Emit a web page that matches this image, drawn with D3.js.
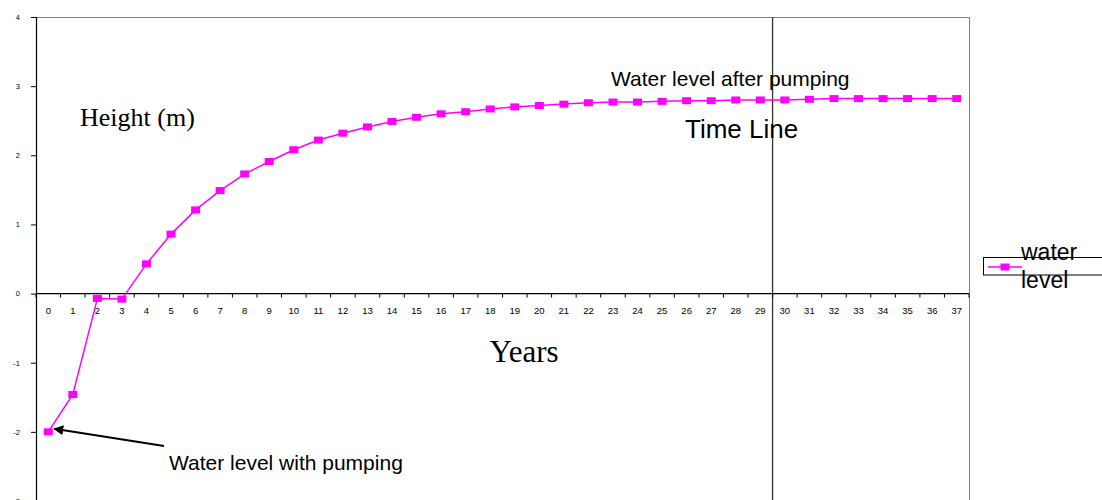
<!DOCTYPE html>
<html>
<head>
<meta charset="utf-8">
<script src="https://cdn.jsdelivr.net/npm/d3@7"></script>
<style>
  html, body { margin: 0; padding: 0; background: #fff; }
  svg { display: block; }
</style>
</head>
<body>
<svg id="chart" width="1102" height="500"></svg>
<script>
// ---- data ----
const years = ["0","1","2","3","4","5","6","7","8","9","10","11","12","13","14","15","16","17","18","19",
               "20","21","22","23","24","25","26","27","28","29","30","31","32","33","34","35","36","37"];
const waterLevel = [-2.00, -1.46, -0.07, -0.08, 0.43, 0.86, 1.21, 1.49, 1.73, 1.91,
                    2.08, 2.22, 2.32, 2.41, 2.49, 2.55, 2.60, 2.63, 2.67, 2.70,
                    2.72, 2.74, 2.76, 2.77, 2.77, 2.78, 2.79, 2.79, 2.80, 2.80,
                    2.80, 2.81, 2.82, 2.82, 2.82, 2.82, 2.82, 2.82];
const yTicks = [-3, -2, -1, 0, 1, 2, 3, 4];
const seriesName = "water level";
const timeLineAt = "30";   // boundary between year 29 and 30

// ---- layout ----
const svg = d3.select("#chart");
const plot = { left: 36, right: 969, top: 17, bottom: 501 };
const SANS = "'Liberation Sans', Arial, sans-serif";
const SERIF = "'Liberation Serif', 'Times New Roman', serif";
const MAG = "#ff00ff";

const x = d3.scaleBand().domain(years).range([plot.left, plot.right]).padding(0);
const y = d3.scaleLinear().domain([-3, 4]).range([plot.bottom, plot.top]);
const cx = d => x(d) + x.bandwidth() / 2;

svg.append("rect").attr("width", 1102).attr("height", 500).attr("fill", "#fff");

// frame (top & right gray)
svg.append("line").attr("x1", plot.left).attr("x2", plot.right).attr("y1", plot.top + 0.5).attr("y2", plot.top + 0.5)
  .attr("stroke", "#808080").attr("stroke-width", 1);
svg.append("line").attr("x1", plot.right + 0.5).attr("x2", plot.right + 0.5).attr("y1", plot.top).attr("y2", plot.bottom)
  .attr("stroke", "#808080").attr("stroke-width", 1);

// time line
svg.append("line")
  .attr("x1", x(timeLineAt)).attr("x2", x(timeLineAt))
  .attr("y1", plot.top).attr("y2", plot.bottom)
  .attr("stroke", "#333").attr("stroke-width", 1.3);

// y axis
const yAxis = d3.axisLeft(y).tickValues(yTicks).tickSize(5).tickPadding(11).tickFormat(d3.format("d"));
const gy = svg.append("g").attr("transform", `translate(${plot.left},0)`).call(yAxis);
gy.select(".domain").attr("stroke", "#000").attr("stroke-width", 1.2);
gy.selectAll(".tick line").attr("stroke", "#000");
gy.selectAll(".tick text").attr("font-family", SANS).attr("font-size", 7.5).attr("fill", "#000")
  .text(d => d < 0 ? "-" + Math.abs(d) : d);

// x axis at y = 0
const y0 = y(0);
svg.append("line").attr("x1", plot.left).attr("x2", plot.right).attr("y1", y0).attr("y2", y0)
  .attr("stroke", "#000").attr("stroke-width", 1.2);
const boundaries = years.map(d => x(d)).concat([plot.right]);
svg.append("g").selectAll("line").data(boundaries).join("line")
  .attr("x1", d => d).attr("x2", d => d).attr("y1", y0).attr("y2", y0 + 4)
  .attr("stroke", "#000").attr("stroke-width", 1);
svg.append("g").selectAll("text").data(years).join("text")
  .attr("x", d => cx(d)).attr("y", y0 + 20)
  .attr("text-anchor", "middle")
  .attr("font-family", SANS).attr("font-size", 9.5).attr("fill", "#000")
  .text(d => d);

// series line
const line = d3.line().x((d, i) => cx(years[i])).y(d => y(d));
svg.append("path").datum(waterLevel)
  .attr("d", line).attr("fill", "none").attr("stroke", MAG).attr("stroke-width", 1.5);
const mw = 9, mh = 7;
svg.append("g").selectAll("rect").data(waterLevel).join("rect")
  .attr("x", (d, i) => cx(years[i]) - mw / 2)
  .attr("y", d => y(d) - mh / 2)
  .attr("width", mw).attr("height", mh)
  .attr("fill", MAG);

// annotations
svg.append("text").attr("x", 80).attr("y", 126)
  .attr("font-family", SERIF).attr("font-size", 26).attr("fill", "#000").text("Height (m)");
svg.append("text").attr("x", 524).attr("y", 362).attr("text-anchor", "middle")
  .attr("font-family", SERIF).attr("font-size", 31).attr("fill", "#000").text("Years");
svg.append("text").attr("x", 611).attr("y", 86)
  .attr("font-family", SANS).attr("font-size", 21).attr("fill", "#000").text("Water level after pumping");
svg.append("text").attr("x", 685).attr("y", 138)
  .attr("font-family", SANS).attr("font-size", 26).attr("fill", "#000").text("Time Line");
svg.append("text").attr("x", 169).attr("y", 470)
  .attr("font-family", SANS).attr("font-size", 21).attr("fill", "#000").text("Water level with pumping");

// arrow to first point
const defs = svg.append("defs");
defs.append("marker").attr("id", "arrowhead")
  .attr("viewBox", "0 0 10 10").attr("refX", 9).attr("refY", 5)
  .attr("markerWidth", 5).attr("markerHeight", 5).attr("orient", "auto")
  .append("path").attr("d", "M0,0 L10,5 L0,10 Z").attr("fill", "#000");
const tipX = cx(years[0]) + 6, tipY = y(waterLevel[0]) - 3;
svg.append("line")
  .attr("x1", 164).attr("y1", 446).attr("x2", tipX).attr("y2", tipY)
  .attr("stroke", "#000").attr("stroke-width", 2)
  .attr("marker-end", "url(#arrowhead)");

// legend
const lg = svg.append("g");
lg.append("rect").attr("x", 983.5).attr("y", 257.5).attr("width", 125).attr("height", 17.5)
  .attr("fill", "#fff").attr("stroke", "#000").attr("stroke-width", 1);
lg.append("line").attr("x1", 988).attr("x2", 1022).attr("y1", 267).attr("y2", 267)
  .attr("stroke", MAG).attr("stroke-width", 1.5);
lg.append("rect").attr("x", 1005 - mw / 2).attr("y", 267 - mh / 2).attr("width", mw).attr("height", mh).attr("fill", MAG);
const words = seriesName.split(" ");
lg.selectAll("text.lbl").data(words).join("text").attr("class", "lbl")
  .attr("x", 1021).attr("y", (d, i) => 260 + i * 28)
  .attr("font-family", SANS).attr("font-size", 23).attr("fill", "#000")
  .text(d => d);
</script>
</body>
</html>
